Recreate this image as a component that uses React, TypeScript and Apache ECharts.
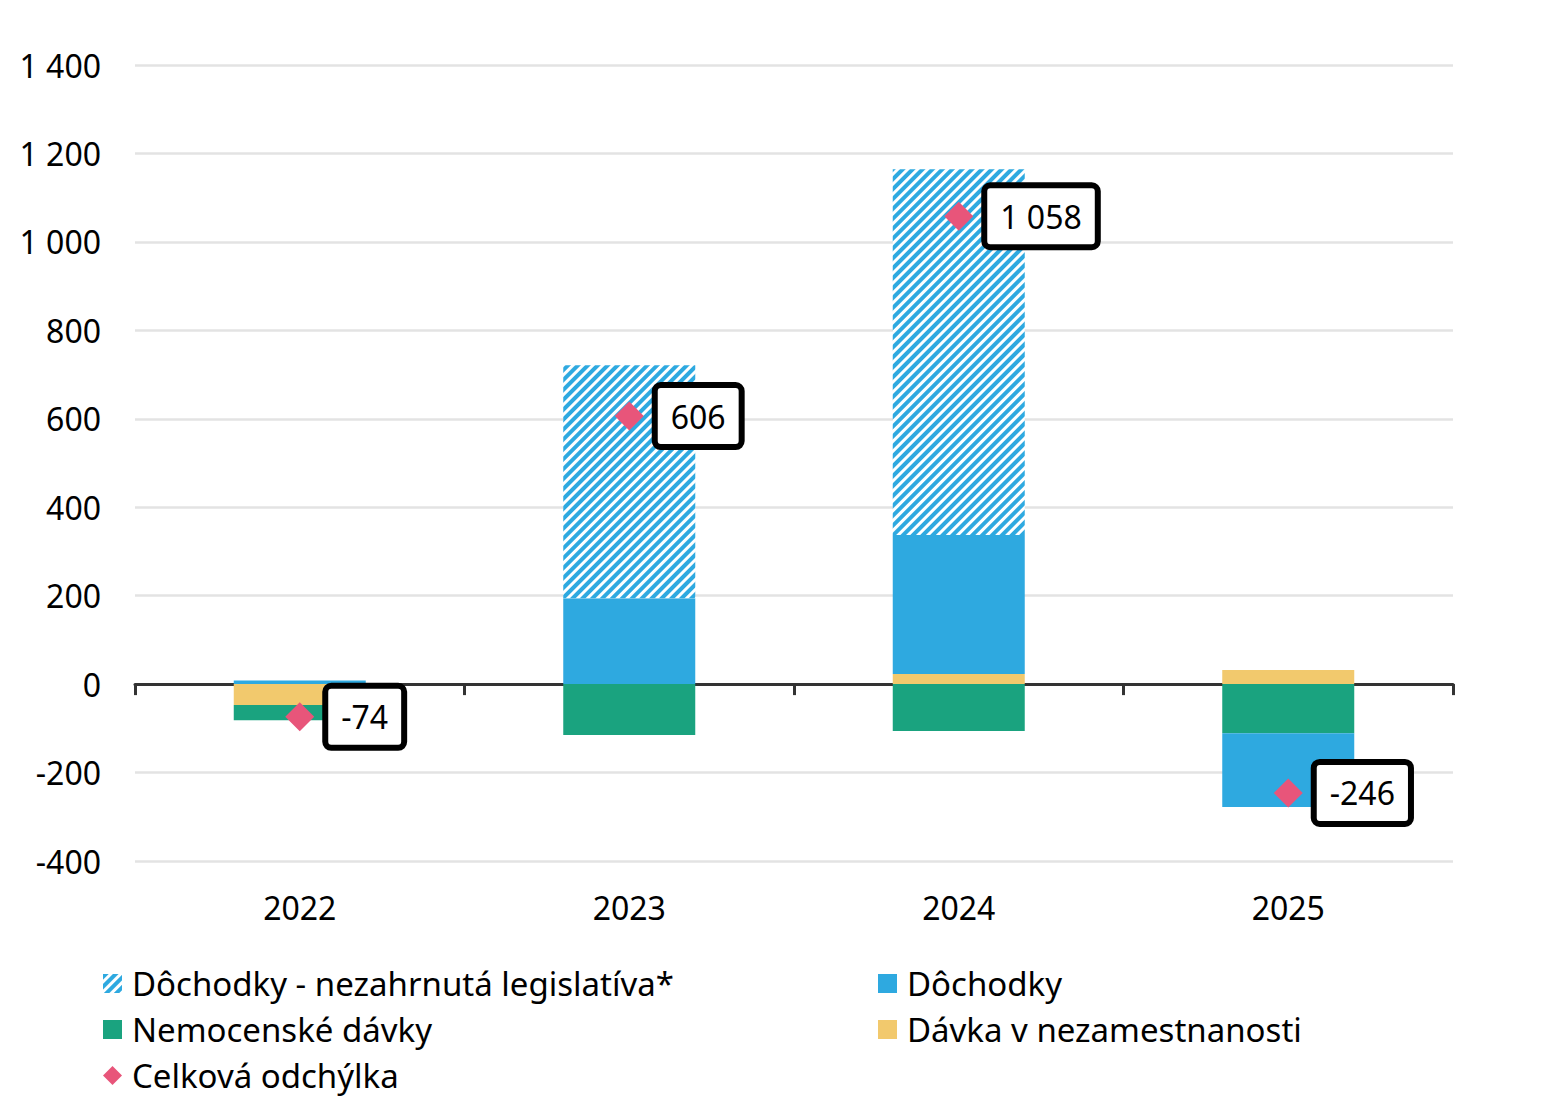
import React, { useEffect, useRef } from "react";
import * as echarts from "echarts";

const categories = ["2022", "2023", "2024", "2025"];
const davka = [-47, 0, 23, 32];
const nemocenske = [-35, -115, -106, -111];
const dochodky = [8, 194, 314, -167];
const nezahrnuta = [0, 527, 827, 0];
const celkova = [-74, 606, 1058, -246];
const yTicks = { min: -400, max: 1400, interval: 200 };

const N_HATCH = "Dôchodky - nezahrnutá legislatíva*";
const N_DOCH = "Dôchodky";
const N_NEM = "Nemocenské dávky";
const N_DAV = "Dávka v nezamestnanosti";
const N_CELK = "Celková odchýlka";

const BLUE = "#2EA9E0";
const GREEN = "#1AA37F";
const YELLOW = "#F2C96D";
const PINK = "#E8557A";
const FONT = "Noto Sans";

function fmt(v: number): string {
  const s = Math.abs(v)
    .toString()
    .replace(/\B(?=(\d{3})+(?!\d))/g, " ");
  return (v < 0 ? "-" : "") + s;
}

export default function App() {
  const ref = useRef<HTMLDivElement>(null);
  useEffect(() => {
    if (!ref.current) return;
    const chart = echarts.init(ref.current, undefined, { renderer: "svg" });
    const barCommon = {
      type: "bar",
      stack: "total",
      barWidth: 132,
      xAxisIndex: 0,
      yAxisIndex: 0,
    };
    const legendCommon = {
      orient: "vertical",
      top: 967,
      padding: 0,
      itemGap: 13,
      itemWidth: 19,
      itemHeight: 19,
      textStyle: {
        fontFamily: FONT,
        fontSize: 33,
        color: "#000",
        lineHeight: 32,
        padding: [0, 0, 0, 5],
      },
    };
    chart.setOption({
      animation: false,
      textStyle: { fontFamily: FONT },
      grid: {
        left: 135,
        right: 102,
        top: 65,
        bottom: 243,
        containLabel: false,
        outerBoundsMode: "none",
      },
      legend: [
        {
          ...legendCommon,
          left: 103,
          data: [
            { name: N_HATCH, icon: "rect" },
            { name: N_NEM, icon: "rect" },
            { name: N_CELK, icon: "diamond" },
          ],
        },
        {
          ...legendCommon,
          left: 878,
          data: [
            { name: N_DOCH, icon: "rect" },
            { name: N_DAV, icon: "rect" },
          ],
        },
      ],
      xAxis: [
        {
          type: "category",
          data: categories,
          axisLine: { onZero: true, lineStyle: { color: "#333", width: 3 } },
          axisTick: { show: true, length: 11, lineStyle: { color: "#333", width: 3 } },
          axisLabel: { show: false },
          splitLine: { show: false },
        },
        {
          type: "category",
          data: categories,
          position: "bottom",
          axisLine: { show: false, onZero: false },
          axisTick: { show: false },
          axisLabel: {
            show: true,
            fontSize: 32,
            color: "#000",
            fontFamily: FONT,
            margin: 30,
          },
        },
      ],
      yAxis: {
        type: "value",
        min: yTicks.min,
        max: yTicks.max,
        interval: yTicks.interval,
        axisLine: { show: false },
        axisTick: { show: false },
        axisLabel: {
          fontSize: 32,
          color: "#000",
          fontFamily: FONT,
          margin: 34,
          formatter: (v: number) => fmt(v),
        },
        splitLine: { lineStyle: { color: "#E3E3E3", width: 2.5 } },
      },
      series: [
        { ...barCommon, name: N_DAV, data: davka, itemStyle: { color: YELLOW } },
        { ...barCommon, name: N_NEM, data: nemocenske, itemStyle: { color: GREEN } },
        { ...barCommon, name: N_DOCH, data: dochodky, itemStyle: { color: BLUE } },
        {
          ...barCommon,
          name: N_HATCH,
          data: nezahrnuta.map((v) => (v === 0 ? "-" : v)),
          itemStyle: {
            color: "#ffffff",
            decal: {
              symbol: "rect",
              symbolSize: 1,
              color: BLUE,
              backgroundColor: "#ffffff",
              dashArrayX: [1, 0],
              dashArrayY: [4, 3],
              rotation: -Math.PI / 4,
            },
          },
        },
        {
          type: "scatter",
          name: N_CELK,
          data: celkova,
          symbol: "diamond",
          symbolSize: 29,
          z: 10,
          itemStyle: { color: PINK, opacity: 1 },
          label: {
            show: true,
            position: "right",
            distance: 14,
            formatter: (p: any) => fmt(p.value),
            fontSize: 32,
            lineHeight: 36,
            fontFamily: FONT,
            color: "#000",
            backgroundColor: "#fff",
            borderColor: "#000",
            borderWidth: 6,
            borderRadius: 3,
            padding: [10, 13, 10, 13],
          },
        },
      ],
    });
    return () => chart.dispose();
  }, []);
  return (
    <div
      ref={ref}
      style={{ position: "fixed", left: 0, top: 0, width: 1555, height: 1104, background: "#fff" }}
    />
  );
}
